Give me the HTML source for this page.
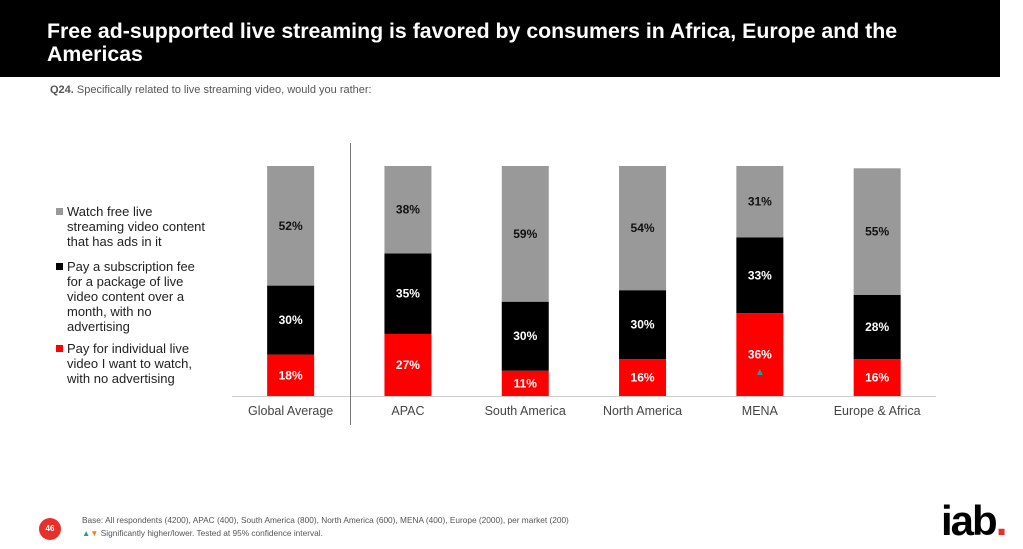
<!DOCTYPE html>
<html><head><meta charset="utf-8"><style>
body{margin:0;width:1023px;height:549px;background:#fff;font-family:"Liberation Sans",sans-serif;position:relative;overflow:hidden}
.hdr{position:absolute;left:0;top:0;width:1000px;height:77px;background:#000}
.title{position:absolute;left:47px;top:20px;color:#fff;font-weight:bold;font-size:21.3px;line-height:23px;width:870px}
.q{position:absolute;left:50px;top:84px;font-size:11px;color:#555}
.leg{position:absolute;left:67px;font-size:13px;line-height:15px;color:#222;width:140px}
.leg i{position:absolute;left:-11px;top:4px;width:7px;height:7px}
.foot{position:absolute;left:82px;font-size:8.3px;color:#555}
</style></head><body>
<div class="hdr"></div>
<div class="title">Free ad-supported live streaming is favored by consumers in Africa, Europe and the Americas</div>
<div class="q"><b>Q24.</b> Specifically related to live streaming video, would you rather:</div>
<div class="leg" style="top:204px"><i style="background:#999"></i>Watch free live streaming video content that has ads in it</div>
<div class="leg" style="top:259px"><i style="background:#000"></i>Pay a subscription fee for a package of live video content over a month, with no advertising</div>
<div class="leg" style="top:341px"><i style="background:#f00"></i>Pay for individual live video I want to watch, with no advertising</div>
<svg id="chart" width="1023" height="549" style="position:absolute;left:0;top:0"></svg>
<div style="position:absolute;left:39px;top:518px;width:22px;height:22px;border-radius:50%;background:#e8302a;color:#fff;font-size:8px;font-weight:bold;text-align:center;line-height:22px">46</div>
<div class="foot" style="top:515px">Base: All respondents (4200), APAC (400), South America (800), North America (600), MENA (400), Europe (2000), per market (200)</div>
<div class="foot" style="top:528px"><span style="color:#1aa39a">▲</span><span style="color:#f07f1a">▼</span> Significantly higher/lower. Tested at 95% confidence interval.</div>
<div style="position:absolute;left:941px;top:498px;font-size:42px;line-height:46px;font-weight:bold;letter-spacing:-2px;color:#000">iab<span style="color:#e8302a">.</span></div>
<script>
const categories=["Global Average","APAC","South America","North America","MENA","Europe & Africa"];
const individual=[18,27,11,16,36,16];
const subscription=[30,35,30,30,33,28];
const freeAds=[52,38,59,54,31,55];
const svg=document.getElementById('chart');const NS='http://www.w3.org/2000/svg';
const y0=396,h=230,x0=232,step=117.3,bw=47;
const yScale=v=>y0-v/100*h;
const xC=i=>x0+step*(i+0.5);
function mk(t,a){const e=document.createElementNS(NS,t);for(const k in a)e.setAttribute(k,a[k]);svg.appendChild(e);return e;}
const ax=mk('line',{x1:x0,x2:936,y1:y0+0.5,y2:y0+0.5,stroke:'#ccc'});


const dv=mk('line',{x1:350.5,x2:350.5,y1:143,y2:425,stroke:'#777'});


const series=[[individual,'#ff0000','#fff','individual'],[subscription,'#000','#fff','subscription'],[freeAds,'#999','#111','free-ads']];
categories.forEach((c,i)=>{
 let cum=0;
 series.forEach(([arr,col,tc,nm])=>{
  const v=arr[i];const yt=yScale(cum+v),yb=yScale(cum);
  const r=mk('rect',{x:xC(i)-bw/2,y:yt,width:bw,height:yb-yt,fill:col});
  
  
  const t=mk('text',{x:xC(i),y:(yt+yb)/2+4,'text-anchor':'middle','font-size':12,'font-weight':'bold',fill:tc});
  t.textContent=v+'%';
  
  
  cum+=v;
 });
 const l=mk('text',{x:xC(i),y:y0+19,'text-anchor':'middle','font-size':12.5,fill:'#444'});
 l.textContent=c;
 
 
});
const tri=mk('text',{x:xC(4),y:375,'text-anchor':'middle','font-size':10,fill:'#1aa39a'});
tri.textContent='▲';


</script>
</body></html>
